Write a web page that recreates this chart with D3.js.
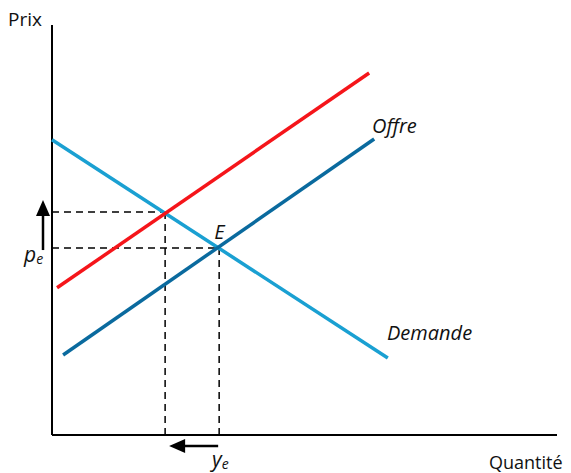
<!DOCTYPE html>
<html><head><meta charset="utf-8">
<script src="https://cdn.jsdelivr.net/npm/d3@7"></script>
<style>body{margin:0;background:#fff}svg{display:block}text{font-family:"Open Sans",sans-serif;fill:#111}</style>
</head><body><svg id="c" width="571" height="473"></svg>
<script>
// Data (model units, 0..10 on both axes)
const offreInitiale = [[0.1, 3.59], [6.28, 8.83]];   // red (shifted supply)
const offre = [[0.22, 1.95], [6.38, 7.22]];          // dark blue
const demande = [[0.0, 7.2], [6.65, 1.88]];           // light blue
const equilibre = {x: 3.31, y: 4.56};                 // E
const nouvelEquilibre = {x: 2.24, y: 5.44};
const labels = {prix: "Prix", quantite: "Quantité", offre: "Offre", demande: "Demande", e: "E"};

const svg = d3.select("#c");
const x = d3.scaleLinear().domain([0, 10]).range([52, 557]);
const y = d3.scaleLinear().domain([0, 10]).range([435, 25]);
const line = d3.line().x(d => x(d[0])).y(d => y(d[1]));

// axes
svg.append("line").attr("x1",x(0)).attr("x2",x(0)).attr("y1",y(10)).attr("y2",y(0)).attr("stroke","#000").attr("stroke-width",2);
svg.append("line").attr("x1",x(0)).attr("x2",x(10)).attr("y1",y(0)).attr("y2",y(0)).attr("stroke","#000").attr("stroke-width",2);

// dashed guides
[equilibre, nouvelEquilibre].forEach(p => {
  svg.append("line").attr("x1",x(0)).attr("x2",x(p.x)).attr("y1",y(p.y)).attr("y2",y(p.y))
    .attr("stroke","#000").attr("stroke-width",1.5).attr("stroke-dasharray","7,5");
  svg.append("line").attr("x1",x(p.x)).attr("x2",x(p.x)).attr("y1",y(p.y)).attr("y2",y(0)+4)
    .attr("stroke","#000").attr("stroke-width",1.5).attr("stroke-dasharray","7,5");
});

// curves
svg.append("path").attr("d",line(demande)).attr("stroke","#1aa0d2").attr("stroke-width",3.5).attr("fill","none");
svg.append("path").attr("d",line(offre)).attr("stroke","#0a6a9e").attr("stroke-width",3.5).attr("fill","none");
svg.append("path").attr("d",line(offreInitiale)).attr("stroke","#f5151a").attr("stroke-width",3.5).attr("fill","none");

// arrows
const ax = x(0) - 9, ayTop = y(nouvelEquilibre.y) - 12, ayBot = y(equilibre.y) + 2;
svg.append("line").attr("x1",ax).attr("x2",ax).attr("y1",ayBot).attr("y2",ayTop+14).attr("stroke","#000").attr("stroke-width",2.5);
svg.append("path").attr("d",`M${ax},${ayTop}L${ax+7},${ayTop+16}L${ax-7},${ayTop+16}Z`).attr("fill","#000");
const by = y(0) + 11, bxL = x(nouvelEquilibre.x) + 4, bxR = x(equilibre.x) - 1;
svg.append("line").attr("x1",bxR).attr("x2",bxL+14).attr("y1",by).attr("y2",by).attr("stroke","#000").attr("stroke-width",2.5);
svg.append("path").attr("d",`M${bxL},${by}L${bxL+16},${by-7}L${bxL+16},${by+7}Z`).attr("fill","#000");

// labels
svg.append("text").attr("x",8).attr("y",26).attr("font-size",19).text(labels.prix);
svg.append("text").attr("x",489).attr("y",469).attr("font-size",18).text(labels.quantite);
svg.append("text").attr("x",372).attr("y",133).attr("font-size",20).attr("font-style","italic").text(labels.offre);
svg.append("text").attr("x",387).attr("y",340).attr("font-size",20).attr("font-style","italic").text(labels.demande);
svg.append("text").attr("x",x(equilibre.x)-5).attr("y",y(equilibre.y)-9).attr("font-size",20).attr("font-style","italic").text(labels.e);
const pe = svg.append("text").attr("x",24).attr("y",262).attr("font-size",21).attr("font-style","italic");
pe.append("tspan").text("p");
pe.append("tspan").attr("font-size",14).attr("dy",2).text("e");
const ye = svg.append("text").attr("x",212).attr("y",467).attr("font-size",21).attr("font-style","italic");
ye.append("tspan").text("y");
ye.append("tspan").attr("font-size",14).attr("dy",2).text("e");
</script></body></html>
